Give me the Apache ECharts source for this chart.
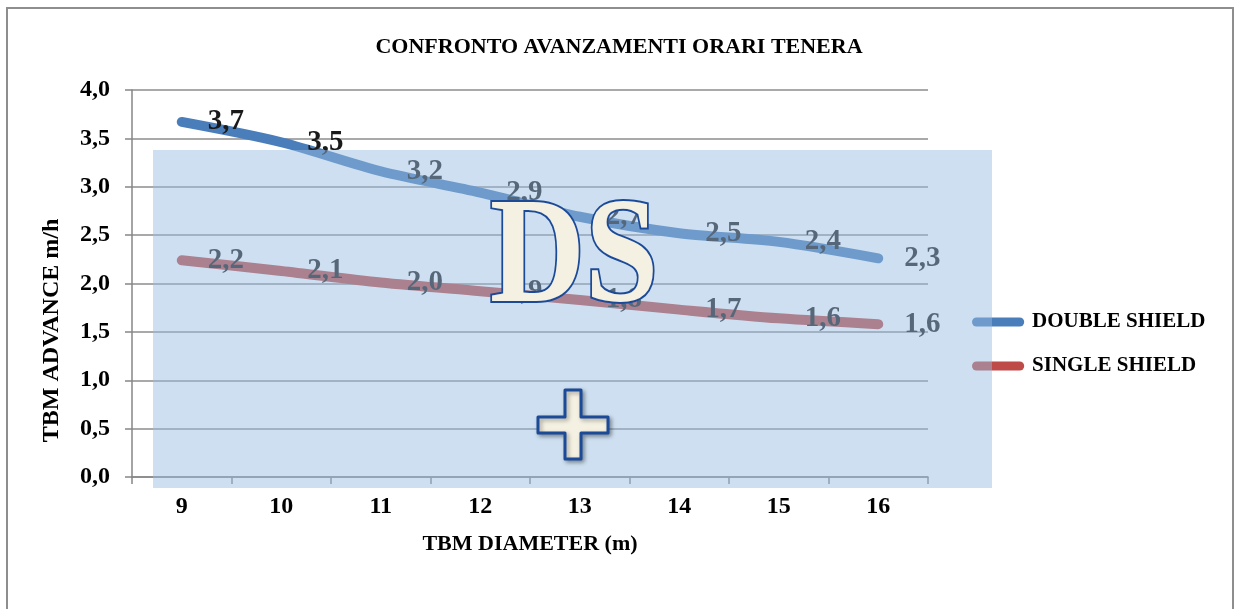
<!DOCTYPE html>
<html>
<head>
<meta charset="utf-8">
<title>Confronto avanzamenti orari tenera</title>
<script src="https://cdn.jsdelivr.net/npm/echarts@6/dist/echarts.min.js"></script>
<style>
  html, body { margin: 0; padding: 0; background: #fff; }
  #chart { width: 1238px; height: 609px; }
</style>
</head>
<body>
<div id="chart"></div>
<script>
// valori
var diameters = ['9', '10', '11', '12', '13', '14', '15', '16'];
var doubleShield = [3.67, 3.46, 3.16, 2.94, 2.69, 2.52, 2.43, 2.26];
var singleShield = [2.24, 2.13, 2.01, 1.92, 1.83, 1.73, 1.64, 1.58];
var yMin = 0, yMax = 4, yStep = 0.5;

var serif = '"Liberation Serif", "Times New Roman", serif';

function comma(v) {
  return Number(v).toFixed(1).replace('.', ',');
}

var chartDom = document.getElementById('chart');
var myChart = echarts.init(chartDom);
var option;

var pointLabel = {
  show: true,
  position: 'right',
  distance: 25,
  fontFamily: serif,
  fontWeight: 'bold',
  fontSize: 29,
  color: '#1a1a1a',
  formatter: function (p) { return comma(p.value); }
};

var axisFont = { fontFamily: serif, fontWeight: 'bold', fontSize: 24, color: '#000' };

option = {
  animation: false,
  title: {
    text: 'CONFRONTO AVANZAMENTI ORARI TENERA',
    left: 'center',
    top: 31,
    textStyle: { fontFamily: serif, fontWeight: 'bold', fontSize: 22, color: '#000' }
  },
  legend: {
    orient: 'vertical',
    left: 967,
    top: 306,
    itemWidth: 58,
    itemHeight: 9,
    itemGap: 22,
    icon: 'path://M5,0 L53,0 A5,5 0 0 1 53,10 L5,10 A5,5 0 0 1 5,0 Z',
    textStyle: { fontFamily: serif, fontWeight: 'bold', fontSize: 21, color: '#000', lineHeight: 22 }
  },
  grid: { left: 132, right: 310, top: 90, bottom: 132 },
  xAxis: {
    type: 'category',
    data: diameters,
    boundaryGap: true,
    name: 'TBM DIAMETER (m)',
    nameLocation: 'middle',
    nameGap: 56,
    nameTextStyle: { fontFamily: serif, fontWeight: 'bold', fontSize: 22, color: '#000' },
    axisLine: { lineStyle: { color: '#868686', width: 1.5 } },
    axisTick: { show: true, interval: 0, length: 7, lineStyle: { color: '#868686', width: 1.5 } },
    axisLabel: Object.assign({ margin: 18 }, axisFont)
  },
  yAxis: {
    type: 'value',
    min: yMin,
    max: yMax,
    interval: yStep,
    name: 'TBM ADVANCE m/h',
    nameLocation: 'middle',
    nameGap: 68,
    nameTextStyle: {
      fontFamily: serif, fontWeight: 'bold', fontSize: 24, color: '#000',
      padding: [0, 94, 0, 0]
    },
    axisLine: { show: true, lineStyle: { color: '#868686', width: 1.5 } },
    axisTick: { show: true, length: 7, lineStyle: { color: '#868686', width: 1.5 } },
    splitLine: { lineStyle: { color: '#8c8c8c', width: 1.5 } },
    axisLabel: Object.assign({
      margin: 22,
      formatter: function (v) { return comma(v); }
    }, axisFont)
  },
  series: [
    {
      name: 'DOUBLE SHIELD',
      type: 'line',
      data: doubleShield,
      smooth: 0.3,
      symbol: 'circle',
      symbolSize: 2,
      color: '#4a7ebb',
      lineStyle: { width: 10, cap: 'round', join: 'round' },
      label: pointLabel
    },
    {
      name: 'SINGLE SHIELD',
      type: 'line',
      data: singleShield,
      smooth: 0.3,
      symbol: 'circle',
      symbolSize: 2,
      color: '#be4b48',
      lineStyle: { width: 10, cap: 'round', join: 'round' },
      label: pointLabel
    }
  ],
  graphic: [
    // cornice esterna
    {
      type: 'rect', silent: true, z: 1,
      shape: { x: 7, y: 8, width: 1226, height: 640 },
      style: { fill: 'none', stroke: '#8e8e8e', lineWidth: 2 }
    },
    // velo azzurro sopra il grafico
    {
      type: 'rect', silent: true, z: 50,
      shape: { x: 153, y: 150, width: 839, height: 338 },
      style: { fill: 'rgba(150,188,223,0.48)' }
    },
    // scritta DS
    {
      type: 'text', silent: true, z: 60,
      x: 574, y: 262, scaleX: 0.88,
      style: {
        text: 'DS',
        x: 0, y: 0,
        align: 'center', verticalAlign: 'middle',
        font: 'bold 150px ' + serif,
        fill: '#f4f0e2', stroke: '#1b4a98', lineWidth: 4,
        shadowBlur: 4, shadowColor: 'rgba(0,0,0,0.35)', shadowOffsetX: 2, shadowOffsetY: 2
      }
    },
    // croce
    {
      type: 'polygon', silent: true, z: 60,
      shape: {
        points: [[565, 390], [581, 390], [581, 417], [608, 417], [608, 433], [581, 433],
                 [581, 459], [565, 459], [565, 433], [538, 433], [538, 417], [565, 417]]
      },
      style: {
        fill: '#f4f0e2', stroke: '#1b4a98', lineWidth: 3, lineJoin: 'round',
        shadowBlur: 4, shadowColor: 'rgba(0,0,0,0.35)', shadowOffsetX: 2, shadowOffsetY: 2
      }
    }
  ]
};

myChart.setOption(option);
</script>
</body>
</html>
